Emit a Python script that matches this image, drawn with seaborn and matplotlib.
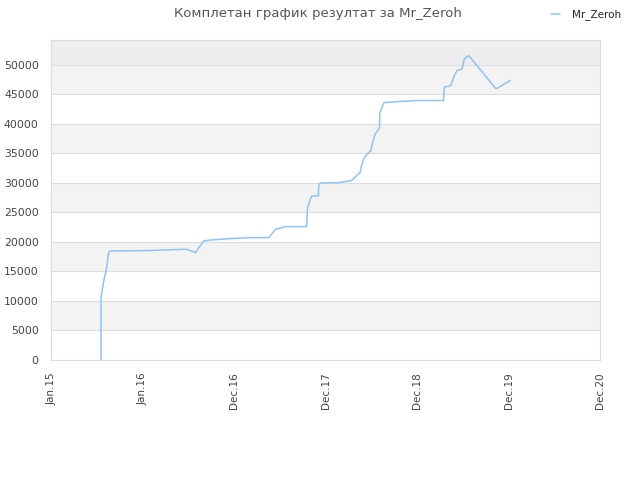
import numpy as np
import pandas as pd
import seaborn as sns
import matplotlib.pyplot as plt

# x positions are in units of the (evenly spaced) date ticks
tick_labels = ["Jan.15", "Jan.16", "Dec.16", "Dec.17", "Dec.18", "Dec.19", "Dec.20"]
x_pos = [0.544, 0.544, 0.573, 0.610, 0.628, 0.646, 1.048, 1.468, 1.490, 1.577,
         1.668, 1.760, 1.906, 2.172, 2.380, 2.453, 2.563, 2.793, 2.801, 2.844,
         2.873, 2.921, 2.924, 2.939, 3.143, 3.283, 3.377, 3.392, 3.414, 3.451,
         3.494, 3.513, 3.541, 3.589, 3.593, 3.640, 3.812, 4.005, 4.290, 4.297,
         4.370, 4.395, 4.436, 4.491, 4.516, 4.564, 4.863, 5.020]
score = [0, 10450, 13270, 15930, 18190, 18470, 18530, 18760, 18700, 18190,
         20170, 20340, 20510, 20730, 20730, 22150, 22600, 22600, 25700, 27700,
         27800, 27800, 29400, 29950, 30050, 30400, 31750, 32880, 34000, 34860,
         35420, 36720, 38250, 39270, 41900, 43600, 43780, 43950, 43950, 46200,
         46500, 47740, 49030, 49270, 50960, 51580, 45930, 47340]

df = pd.DataFrame({"x": x_pos, "score": score, "player": "Mr_Zeroh"})

sns.set_style("white")
plt.rcParams['font.family'] = ['DejaVu Sans']

fig = plt.figure(figsize=(6.4, 4.8), dpi=100)
ax = fig.add_axes([0.080, 0.25, 0.8575, 0.6667])

# alternating horizontal bands
yt = list(range(0, 55000, 5000))
for i in range(len(yt)):
    lo = yt[i]
    hi = yt[i + 1] if i + 1 < len(yt) else 60000
    if i == len(yt) - 1:
        ax.axhspan(lo, hi, color="#eeeeee", zorder=0, lw=0)
    elif i % 2 == 1:
        ax.axhspan(lo, hi, color="#f3f3f3", zorder=0, lw=0)
for v in yt[1:]:
    ax.axhline(v, color="#dddddd", lw=0.8, zorder=1)

sns.lineplot(data=df, x="x", y="score", hue="player", palette=["#8ec3f5"],
             lw=1.1, ax=ax, sort=False, estimator=None, zorder=3)

ax.set_xlim(0, 6)
ax.set_ylim(0, 54200)
ax.set_xticks(range(len(tick_labels)))
ax.set_xticklabels(tick_labels, rotation=90, fontsize=7.5, color="#444444")
ax.set_yticks(yt)
ax.set_yticklabels([str(v) for v in yt], fontsize=7.8, color="#444444")
ax.tick_params(axis="x", length=0, pad=9)
ax.tick_params(axis="y", length=0, pad=9)
ax.set_xlabel("")
ax.set_ylabel("")
for s in ax.spines.values():
    s.set_color("#dddddd")
    s.set_linewidth(0.8)

fig.suptitle("Комплетан график резултат за Mr_Zeroh", x=0.497, y=0.985,
             fontsize=9.5, color="#555555")

leg = ax.legend(loc="upper right", bbox_to_anchor=(0.985, 1.0),
                bbox_transform=fig.transFigure, frameon=False, fontsize=7.5,
                handlelength=0.9, handletextpad=1.1)
for t in leg.get_texts():
    t.set_color("#222222")

fig.savefig("out.png", dpi=100)
